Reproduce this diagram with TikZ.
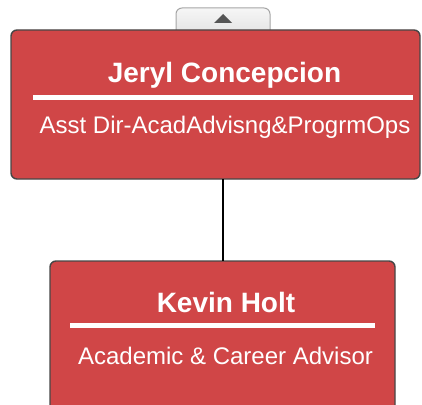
\documentclass[tikz,border=0pt]{standalone}
\usepackage{fontspec}
\setmainfont{Liberation Sans}
\usetikzlibrary{positioning,calc,shapes.geometric}

\definecolor{cardred}{RGB}{208,70,71}
\definecolor{cardedge}{RGB}{70,70,70}
\definecolor{tabtop}{RGB}{246,246,246}
\definecolor{tabbot}{RGB}{222,222,222}
\definecolor{tabedge}{RGB}{165,165,165}
\definecolor{arrowgray}{RGB}{85,85,85}

\begin{document}
\begin{tikzpicture}[
    x=1pt, y=-1pt,
    card/.style={draw=cardedge, line width=1.4pt, fill=cardred, rounded corners=6pt,
                 inner sep=0pt, outer sep=0pt},
    name_style/.style={text=white, font=\fontsize{28}{32}\selectfont\bfseries, anchor=base, inner sep=0pt},
    title_style/.style={text=white, font=\fontsize{24}{28}\selectfont, anchor=base, inner sep=0pt},
    rule/.style={draw=white, line width=5pt},
    link/.style={draw=black, line width=2pt}
]
\useasboundingbox (0,0) rectangle (422,404);
\clip (0,0) rectangle (422,404);

% ===== Collapse tab =====
\node[draw=tabedge, line width=1pt, top color=tabtop, bottom color=tabbot,
      rounded corners=6pt, minimum width=94pt, minimum height=34pt, inner sep=0pt]
      (tab) at (223,25) {};
\fill[arrowgray] (214,23) -- (223,14) -- (232,23) -- cycle;

% ===== Top card: Jeryl Concepcion =====
\node[card, minimum width=409pt, minimum height=149pt] (jeryl) at (215.5,104.5) {};
\node[name_style] (jerylname) at (224.5,82) {Jeryl Concepcion};
\draw[rule] (33,97) -- (413,97);
\node[title_style] (jeryltitle) at (225,133) {Asst Dir-AcadAdvisng\&ProgrmOps};

% ===== Bottom card: Kevin Holt =====
\node[card, minimum width=345pt, minimum height=200pt] (kevin) at (222.5,361) {};
\node[name_style] (kevinname) at (226,312) {Kevin Holt};
\draw[rule] (70,325.5) -- (375,325.5);
\node[title_style] (kevintitle) at (225.5,364) {Academic \& Career Advisor};

% Reporting line
\draw[link] (jeryl.south -| 223,0) -- (kevin.north -| 223,0);

\end{tikzpicture}
\end{document}
